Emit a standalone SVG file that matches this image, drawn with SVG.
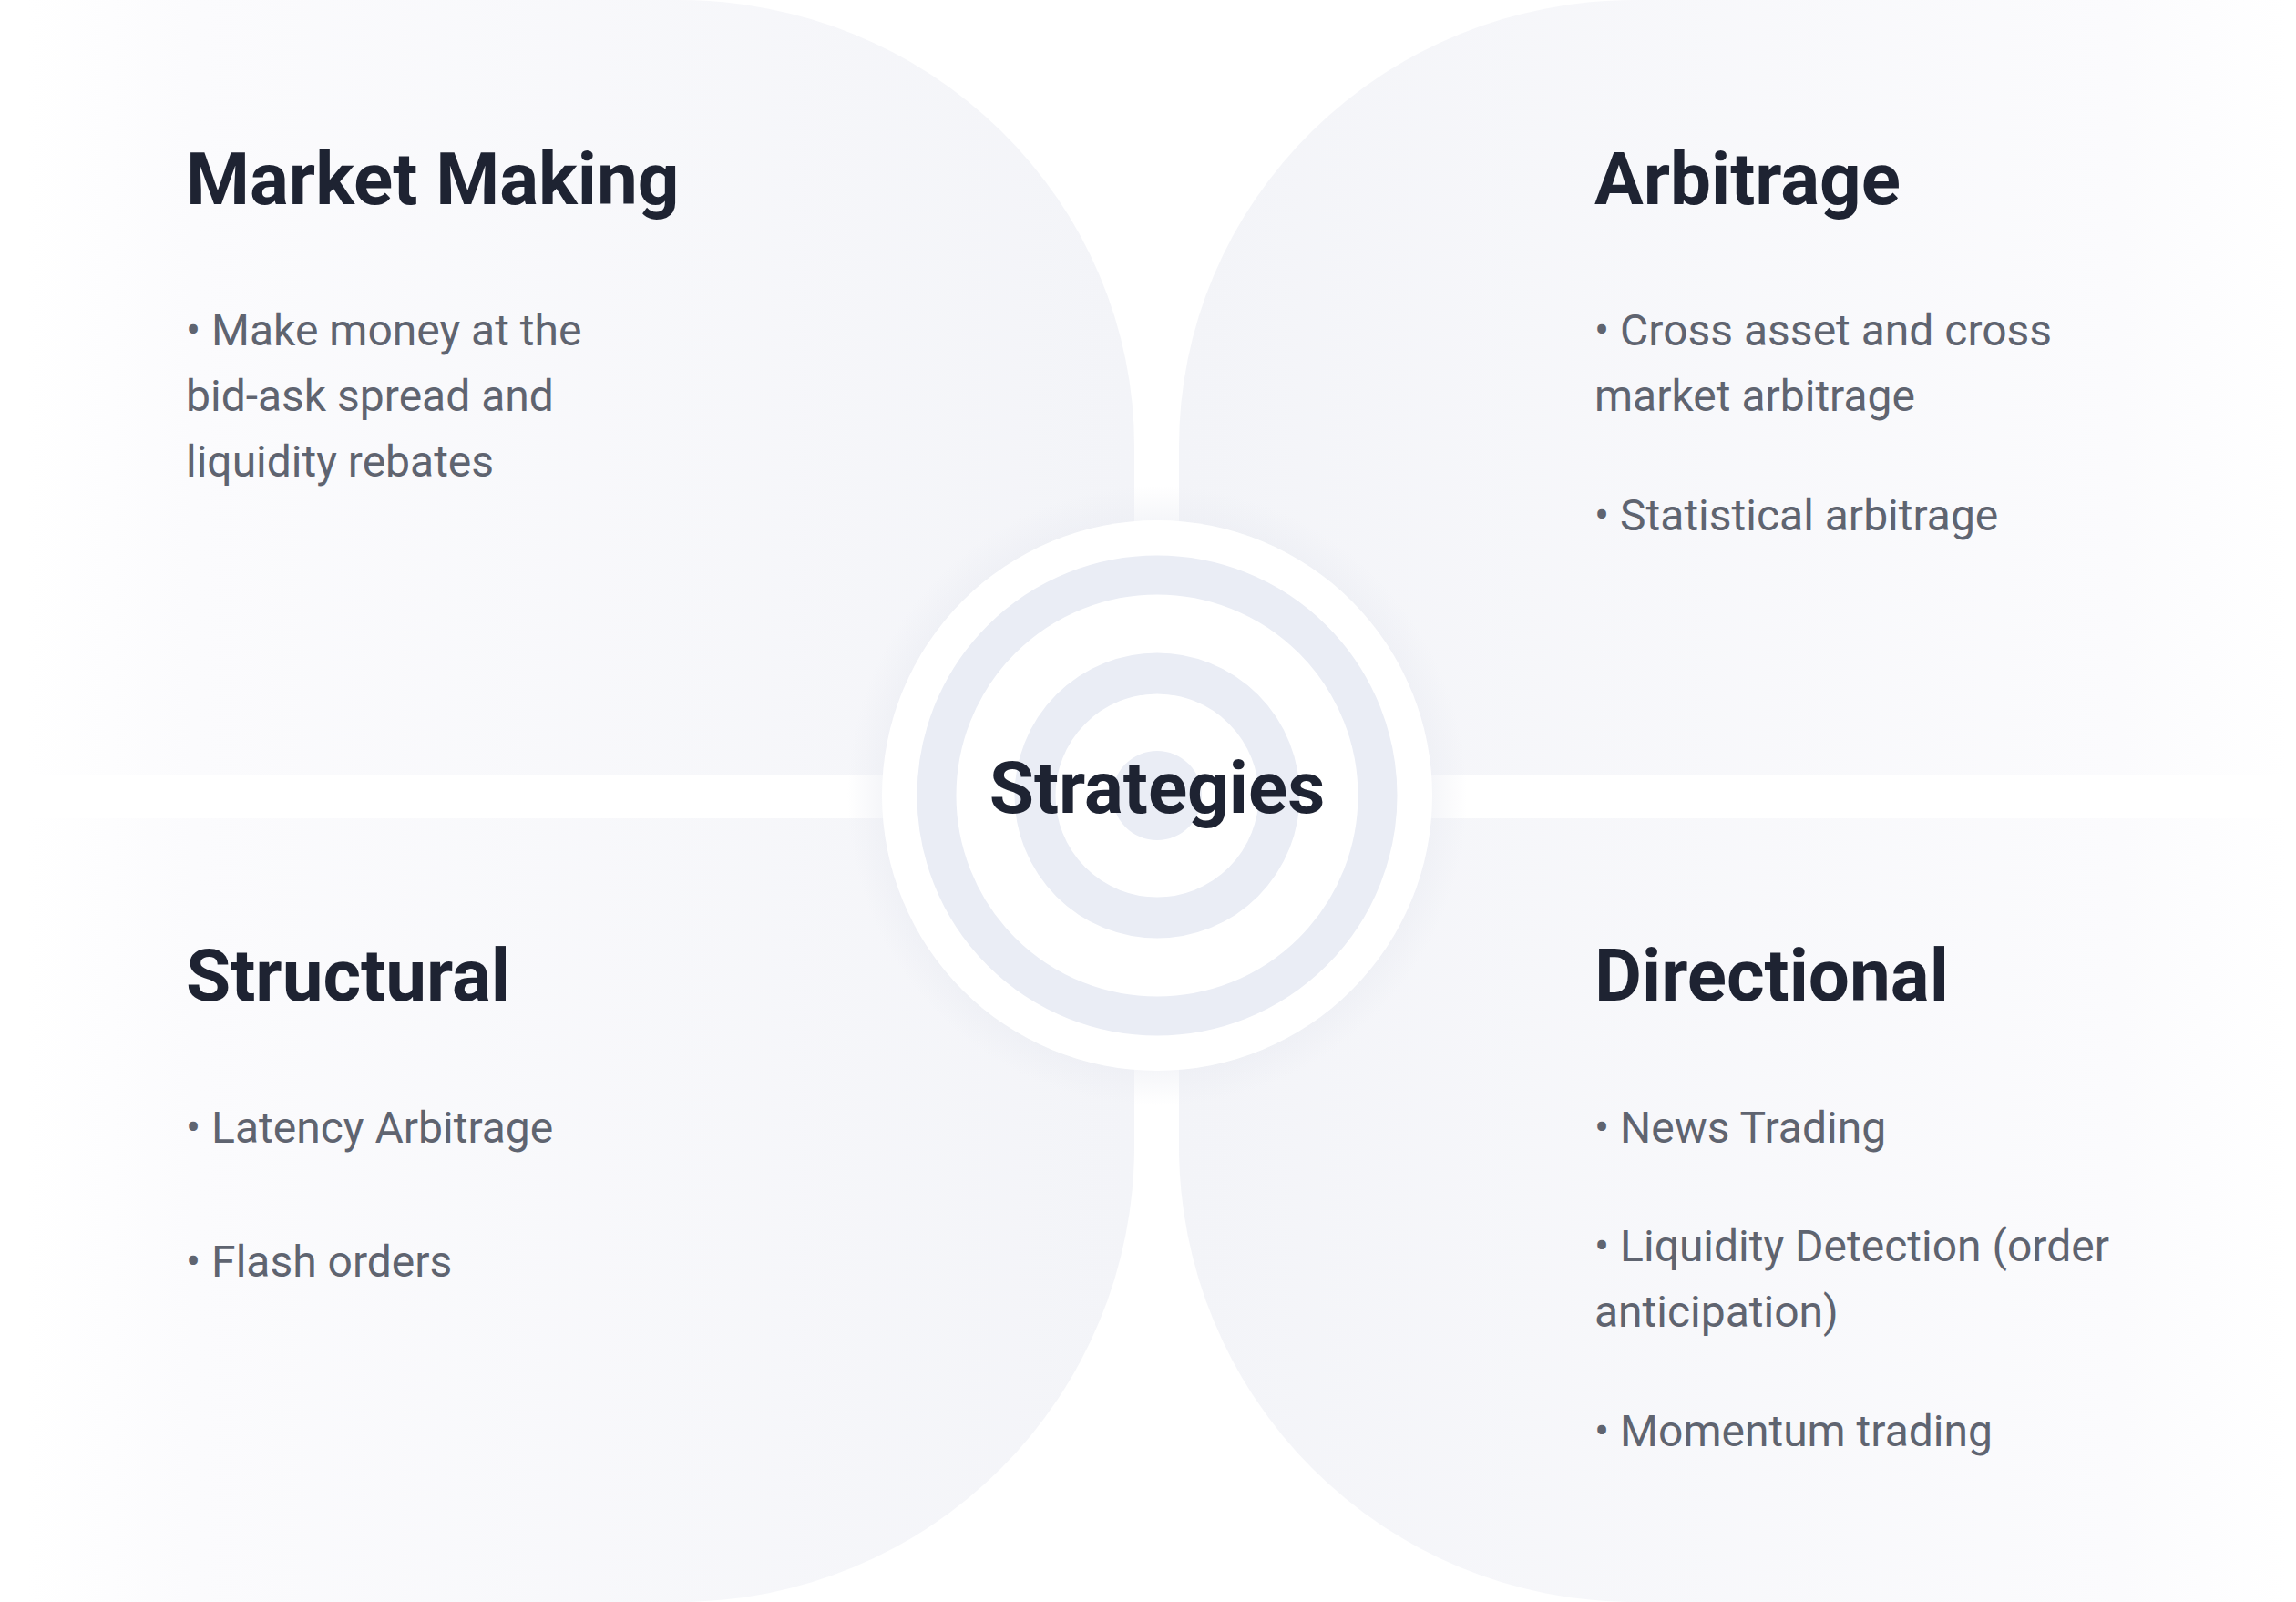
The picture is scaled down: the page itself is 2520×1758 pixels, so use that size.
<svg xmlns="http://www.w3.org/2000/svg" width="2520" height="1758" viewBox="0 0 2520 1758">
<defs>
<linearGradient id="gL" x1="0" y1="0" x2="1" y2="0"><stop offset="0" stop-color="#ffffff"/><stop offset="0.15" stop-color="#fbfbfd"/><stop offset="1" stop-color="#f3f4f8"/></linearGradient>
<linearGradient id="gR" x1="0" y1="0" x2="1" y2="0"><stop offset="0" stop-color="#f3f4f8"/><stop offset="0.85" stop-color="#fbfbfd"/><stop offset="1" stop-color="#ffffff"/></linearGradient>
<radialGradient id="sh" cx="0.5" cy="0.5" r="0.5"><stop offset="0.8" stop-color="#e9ebf2" stop-opacity="0.8"/><stop offset="1" stop-color="#e9ebf2" stop-opacity="0"/></radialGradient>
</defs>
<style>
.t{font-family:Roboto,"Liberation Sans",sans-serif;font-weight:700;font-size:80px;fill:#1e2332}
.b{font-family:Roboto,"Liberation Sans",sans-serif;font-size:48px;fill:#5f6470}
.ring{fill:none;stroke:#eaedf5}
</style>
<rect width="2520" height="1758" fill="#ffffff"/>
<g id="market-making">
<path d="M30 0 H745 A500 490 0 0 1 1245 490 V850 H30 Z" fill="url(#gL)"/>
<text class="t" x="204" y="224">Market Making</text>
<text class="b" x="204" y="379">• Make money at the</text>
<text class="b" x="204" y="451">bid-ask spread and</text>
<text class="b" x="204" y="523">liquidity rebates</text>
</g>
<g id="arbitrage">
<path d="M2510 0 H1794 A500 490 0 0 0 1294 490 V850 H2510 Z" fill="url(#gR)"/>
<text class="t" x="1750" y="224">Arbitrage</text>
<text class="b" x="1750" y="379">• Cross asset and cross</text>
<text class="b" x="1750" y="451">market arbitrage</text>
<text class="b" x="1750" y="582">• Statistical arbitrage</text>
</g>
<g id="structural">
<path d="M30 898 H1245 V1258 A500 500 0 0 1 745 1758 H30 Z" fill="url(#gL)"/>
<text class="t" x="204" y="1098">Structural</text>
<text class="b" x="204" y="1254">• Latency Arbitrage</text>
<text class="b" x="204" y="1401">• Flash orders</text>
</g>
<g id="directional">
<path d="M2510 898 H1294 V1258 A500 500 0 0 0 1794 1758 H2510 Z" fill="url(#gR)"/>
<text class="t" x="1750" y="1098">Directional</text>
<text class="b" x="1750" y="1254">• News Trading</text>
<text class="b" x="1750" y="1384">• Liquidity Detection (order</text>
<text class="b" x="1750" y="1456">anticipation)</text>
<text class="b" x="1750" y="1587">• Momentum trading</text>
</g>
<g id="connectors"></g>
<g id="strategies">
<circle cx="1270" cy="873" r="340" fill="url(#sh)"/>
<circle cx="1270" cy="873" r="302" fill="#ffffff"/>
<circle class="ring" cx="1270" cy="873" r="242" stroke-width="43"/>
<circle class="ring" cx="1270" cy="873" r="134" stroke-width="45"/>
<circle cx="1270" cy="873" r="49" fill="#eaedf5"/>
<text class="t" x="1270" y="892" text-anchor="middle">Strategies</text>
</g>
</svg>
